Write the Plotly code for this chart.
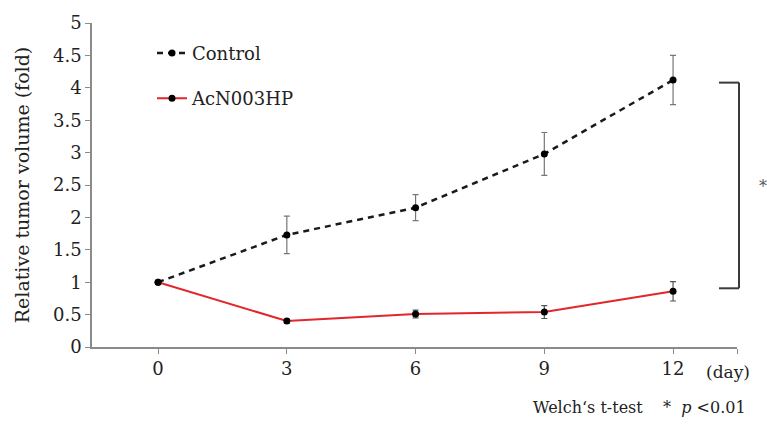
import plotly.graph_objects as go

days = [0, 3, 6, 9, 12]
control = [1.0, 1.73, 2.15, 2.98, 4.12]
control_err = [0.0, 0.29, 0.20, 0.33, 0.38]
acn = [1.0, 0.40, 0.51, 0.54, 0.86]
acn_err = [0.0, 0.03, 0.06, 0.10, 0.15]
y_ticks = [0, 0.5, 1, 1.5, 2, 2.5, 3, 3.5, 4, 4.5, 5]
x_ticks = [0, 3, 6, 9, 12]

W, H = 767, 426
L, R, T, B = 92, 30, 16, 79
pw, ph = W - L - R, H - T - B
XMIN, XMAX = -1.54, 13.49

def px(xp):
    return (xp - L) / pw

def py(yp):
    return (H - B - yp) / ph

FONT = "DejaVu Serif"
AXC = "#8a8a8a"
TXT = "#222222"

fig = go.Figure()
fig.add_trace(go.Scatter(
    x=days, y=control, name="Control", mode="lines+markers",
    line=dict(color="#1a1a1a", width=2.5, dash="6px,5px"),
    marker=dict(color="#000000", size=7),
    error_y=dict(type="data", array=control_err, color="#777777", thickness=1.2, width=3),
    legendgroup="a",
))
fig.add_trace(go.Scatter(
    x=days, y=acn, name="AcN003HP", mode="lines+markers",
    line=dict(color="#e3262a", width=2),
    marker=dict(color="#000000", size=7),
    error_y=dict(type="data", array=acn_err, color="#555555", thickness=1.2, width=3),
    legendgroup="b",
))

# significance bracket
bx_r, bx_l = px(739), px(719)
by_t, by_b = 4.08 / 5, 0.906 / 5
for (x0, y0, x1, y1) in [(bx_l, by_t, bx_r, by_t), (bx_r, by_t, bx_r, by_b), (bx_l, by_b, bx_r, by_b)]:
    fig.add_shape(type="line", xref="paper", yref="paper", x0=x0, y0=y0, x1=x1, y1=y1,
                  line=dict(color="#3a3a3a", width=2))

fig.add_annotation(xref="paper", yref="paper", x=px(763), y=py(183), xanchor="center", yanchor="middle",
                   text="*", showarrow=False, font=dict(family=FONT, size=16, color="#555555"))
fig.add_annotation(xref="paper", yref="paper", x=px(728), y=py(373), xanchor="center", yanchor="middle",
                   text="(day)", showarrow=False, font=dict(family=FONT, size=17, color=TXT))
fig.add_annotation(xref="paper", yref="paper", x=px(748), y=py(409), xanchor="right", yanchor="middle",
                   text="Welch‘s t-test &nbsp;&nbsp; * &nbsp;<i>p</i> &lt;0.01",
                   showarrow=False, font=dict(family=FONT, size=16, color=TXT))

fig.update_layout(
    width=W, height=H,
    margin=dict(l=L, r=R, t=T, b=B),
    paper_bgcolor="white", plot_bgcolor="white",
    font=dict(family=FONT, size=18, color=TXT),
    showlegend=True,
    legend=dict(x=px(152), y=py(28), xanchor="left", yanchor="top",
                font=dict(family=FONT, size=18, color=TXT),
                traceorder="grouped", tracegroupgap=19, bgcolor="rgba(0,0,0,0)"),
    xaxis=dict(range=[XMIN, XMAX], tickvals=x_ticks + [XMAX], ticktext=[str(v) for v in x_ticks] + [""],
               showline=True, linecolor=AXC, linewidth=1.5, ticks="outside", tickcolor=AXC,
               ticklen=5, tickwidth=1.2, showgrid=False, zeroline=False,
               tickfont=dict(family=FONT, size=18, color=TXT)),
    yaxis=dict(range=[0, 5], tickvals=y_ticks, ticktext=[("%g" % v) for v in y_ticks],
               showline=True, linecolor=AXC, linewidth=1.5, ticks="outside", tickcolor=AXC,
               ticklen=5, tickwidth=1.2, showgrid=False, zeroline=False,
               tickfont=dict(family=FONT, size=18, color=TXT),
               title=dict(text="Relative tumor volume (fold)", standoff=18,
                          font=dict(family=FONT, size=19, color=TXT))),
)

fig.write_html("out.html")
